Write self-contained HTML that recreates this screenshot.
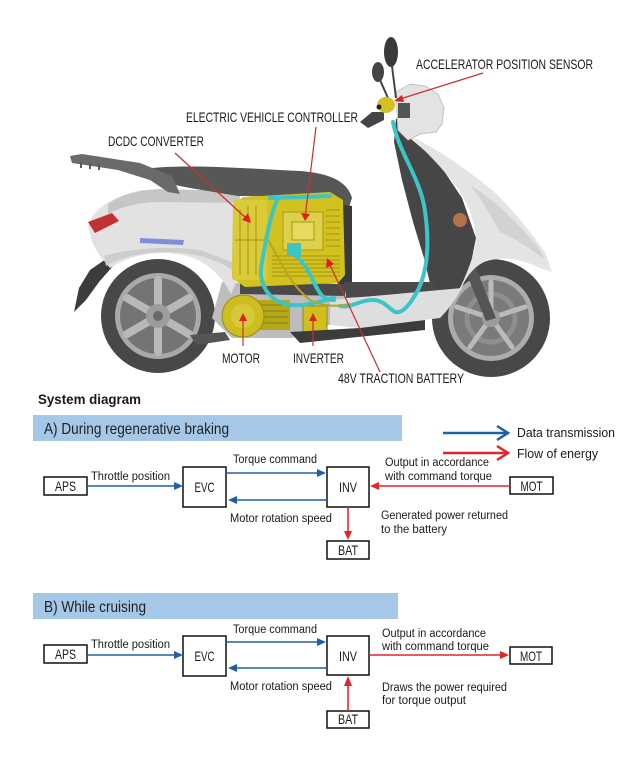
<!DOCTYPE html>
<html>
<head>
<meta charset="utf-8">
<style>
html,body{margin:0;padding:0;background:#fff;}
body{width:640px;height:762px;overflow:hidden;}
svg{display:block;}
text{font-family:"Liberation Sans",Arial,sans-serif;fill:#1a1a1a;}
</style>
</head>
<body>
<svg width="640" height="762" viewBox="0 0 640 762" xmlns="http://www.w3.org/2000/svg">
<rect width="640" height="762" fill="#ffffff"/>

<!-- ================= SCOOTER ILLUSTRATION ================= -->
<!-- rear wheel -->
<g transform="translate(158,316)">
  <circle r="57" fill="#484848"/>
  <circle r="43" fill="#a9a9a9"/>
  <circle r="38" fill="#747474"/>
  <g stroke="#b8b8b8" stroke-width="8" stroke-linecap="round">
    <line x1="0" y1="0" x2="0" y2="-36"/>
    <line x1="0" y1="0" x2="31" y2="-18"/>
    <line x1="0" y1="0" x2="31" y2="18"/>
    <line x1="0" y1="0" x2="0" y2="36"/>
    <line x1="0" y1="0" x2="-31" y2="18"/>
    <line x1="0" y1="0" x2="-31" y2="-18"/>
  </g>
  <circle r="12" fill="#9c9c9c"/>
  <circle r="5" fill="#6a6a6a"/>
</g>
<!-- front wheel -->
<g transform="translate(491,318)">
  <circle r="59" fill="#484848"/>
  <circle r="43" fill="#acacac"/>
  <circle r="38" fill="#7a7a7a"/>
  <circle r="24" fill="none" stroke="#8e8e8e" stroke-width="5"/>
  <g stroke="#bababa" stroke-width="5" stroke-linecap="round">
    <line x1="0" y1="0" x2="0" y2="-36"/>
    <line x1="0" y1="0" x2="34" y2="-11"/>
    <line x1="0" y1="0" x2="21" y2="29"/>
    <line x1="0" y1="0" x2="-21" y2="29"/>
    <line x1="0" y1="0" x2="-34" y2="-11"/>
  </g>
  <circle r="9" fill="#9c9c9c"/>
</g>
<!-- front fork -->
<path d="M460,258 L472,258 L496,318 L486,321 Z" fill="#555"/>

<!-- rear mudguard -->
<path d="M74,312 L79,288 L90,270 L106,259 L113,266 L99,282 L86,300 Z" fill="#3c3c3c"/>

<!-- lower gray region under battery -->
<path d="M222,282 L345,288 L345,300 L332,324 L292,338 L232,338 L212,318 Z" fill="#bdbdbd"/>
<path d="M190,335 L225,332 L230,340 L196,345 Z" fill="#555"/>

<!-- rear body -->
<path d="M88,226 C92,210 112,196 142,190 L240,192 L238,278 L231,294 C222,276 205,258 178,254 C150,250 125,258 110,268 L100,256 L92,242 Z" fill="#e2e2e2"/>
<path d="M108,204 C122,194 140,190 160,189 L240,191 L240,203 L160,202 C140,202 124,206 108,214 Z" fill="#c6c6c6"/>
<path d="M104,256 C130,248 170,246 200,250 L232,262 L232,270 C215,258 190,252 165,252 C140,252 120,258 106,266 Z" fill="#cdcdcd"/>
<!-- tail light -->
<path d="M88,222 L112,213 L119,221 L95,233 Z" fill="#c23232"/>
<!-- logo -->
<path d="M140,238 L184,240 L183,245 L140,243 Z" fill="#7d8fd6"/>

<!-- seat -->
<path d="M138,170 C175,163 240,168 300,171 C330,173 348,182 352,198 L348,210 L335,206 C310,198 270,196 238,196 L190,188 L150,180 Z" fill="#575757"/>
<!-- grab rail -->
<path d="M70,156 L82,154 L140,163 L172,176 L180,194 L168,192 L150,180 L118,170 L72,163 Z" fill="#6a6a6a"/>
<g fill="#5a5a5a">
  <rect x="80" y="162" width="2" height="6"/>
  <rect x="89" y="163" width="2" height="6"/>
  <rect x="98" y="164" width="2" height="6"/>
</g>

<!-- battery case back -->
<path d="M336,204 L352,206 L352,288 L338,292 Z" fill="#3a3a3a"/>
<path d="M240,282 L345,284 L345,296 L240,294 Z" fill="#4a4a4a"/>
<!-- yellow block -->
<path d="M233,205 L243,197 L330,192 L343,200 L345,275 L338,283 L245,287 L232,278 Z" fill="#d3c11f"/>
<rect x="233" y="200" width="34" height="80" fill="#dccb38"/>
<g stroke="#a39414" stroke-width="1">
  <line x1="240" y1="210" x2="240" y2="275"/>
  <line x1="248" y1="206" x2="248" y2="275"/>
  <line x1="256" y1="206" x2="256" y2="275"/>
  <line x1="235" y1="240" x2="266" y2="240"/>
  <line x1="272" y1="256" x2="340" y2="256"/>
  <line x1="272" y1="260" x2="340" y2="260"/>
  <line x1="272" y1="264" x2="340" y2="264"/>
  <line x1="272" y1="268" x2="340" y2="268"/>
  <line x1="272" y1="272" x2="340" y2="272"/>
  <line x1="272" y1="276" x2="340" y2="276"/>
  <line x1="326" y1="210" x2="340" y2="210"/>
  <line x1="326" y1="216" x2="340" y2="216"/>
  <line x1="326" y1="222" x2="340" y2="222"/>
  <line x1="326" y1="228" x2="340" y2="228"/>
  <line x1="326" y1="234" x2="340" y2="234"/>
  <line x1="326" y1="240" x2="340" y2="240"/>
  <line x1="326" y1="246" x2="340" y2="246"/>
</g>
<rect x="283" y="212" width="40" height="38" fill="#ddd04c" stroke="#a89a15" stroke-width="1"/>
<rect x="292" y="222" width="22" height="18" fill="#e6d95e" stroke="#a89a15" stroke-width="1"/>

<!-- motor -->
<rect x="258" y="300" width="32" height="30" fill="#b6a61a"/>
<g stroke="#8a7e10" stroke-width="1">
  <line x1="262" y1="305" x2="288" y2="305"/>
  <line x1="262" y1="311" x2="288" y2="311"/>
  <line x1="262" y1="317" x2="288" y2="317"/>
  <line x1="262" y1="323" x2="288" y2="323"/>
</g>
<circle cx="243" cy="316" r="21" fill="#cdbd1e" stroke="#9a8c10" stroke-width="1"/>
<circle cx="243" cy="316" r="12" fill="#d8c93a"/>
<!-- inverter -->
<rect x="303" y="306" width="24" height="26" fill="#cfbf1f" stroke="#9a8c10" stroke-width="1"/>

<!-- front leg shield (dark) -->
<path d="M396,118 L410,138 L438,162 L462,198 L476,238 L470,268 L458,292 L432,292 L424,258 L413,222 L402,180 L394,142 Z" fill="#464646"/>
<!-- front fairing (white) -->
<path d="M410,136 C440,150 470,172 492,190 C512,208 530,232 545,252 L552,272 L540,268 C520,258 500,256 484,262 C472,268 464,280 460,292 L458,292 C468,272 476,250 476,238 C474,215 465,198 455,185 C440,165 424,150 410,136 Z" fill="#e4e4e4"/>
<path d="M470,185 C495,200 520,225 540,250 L545,260 C530,248 515,238 500,232 C490,215 482,200 470,185 Z" fill="#d2d2d2"/>
<circle cx="460" cy="220" r="7" fill="#b4714a"/>
<!-- headset -->
<path d="M396,92 L410,84 L425,86 L438,94 L444,108 L442,124 L436,132 L420,134 L408,140 L398,130 Z" fill="#e3e3e3" stroke="#c4c4c4" stroke-width="1"/>
<rect x="398" y="103" width="12" height="15" fill="#555"/>
<!-- mirrors -->
<line x1="392" y1="66" x2="396" y2="98" stroke="#444" stroke-width="2"/>
<line x1="380" y1="80" x2="388" y2="98" stroke="#444" stroke-width="2"/>
<ellipse cx="391" cy="52" rx="7" ry="15" fill="#3a3a3a"/>
<ellipse cx="378" cy="72" rx="6" ry="10" fill="#454545"/>
<!-- handle grip -->
<path d="M360,122 L372,112 L384,112 L384,120 L368,128 Z" fill="#444"/>
<!-- APS yellow -->
<ellipse cx="386" cy="105" rx="9" ry="8" fill="#d4c020"/>
<circle cx="379" cy="107" r="2.5" fill="#222"/>

<!-- floor -->
<path d="M344,282 L432,282 L440,292 L346,298 Z" fill="#4a4a4a"/>
<path d="M330,300 L440,290 L462,288 C455,300 448,310 440,318 L360,328 L330,325 Z" fill="#dedede"/>
<path d="M290,332 L360,328 L425,320 L425,330 L300,343 Z" fill="#3c3c3c"/>

<!-- cyan cables -->
<g fill="none" stroke="#3cc5c8" stroke-width="4" stroke-linecap="round">
  <path d="M393,122 C398,150 418,175 424,205 C430,240 428,270 418,290 C410,305 402,314 395,312 C388,308 384,300 372,300 C360,300 352,308 340,306"/>
  <path d="M278,198 C270,215 266,240 262,262 C258,280 265,298 285,304 C300,308 318,302 334,298"/>
  <path d="M296,256 C308,266 312,280 318,290 C322,297 326,300 334,300"/>
  <path d="M270,198 L330,196"/>
</g>
<rect x="287" y="243" width="14" height="13" fill="#3cc5c8"/>
<g fill="none" stroke="#b5a520" stroke-width="2">
  <path d="M268,240 C280,260 290,285 310,300 C325,308 340,306 350,304"/>
</g>

<!-- label leader lines -->
<g stroke="#c9302f" stroke-width="1.2" fill="none">
  <line x1="483" y1="73" x2="400" y2="99"/>
  <line x1="316" y1="127" x2="305.5" y2="214"/>
  <line x1="175" y1="153" x2="246" y2="218"/>
  <line x1="380" y1="372" x2="330" y2="265"/>
  <line x1="243" y1="346" x2="243" y2="320"/>
  <line x1="313" y1="346" x2="313" y2="320"/>
</g>
<g fill="#e02020">
  <polygon points="394,101 402,95 404,102"/>
  <polygon points="305,221 301,213 310,214"/>
  <polygon points="251,223 242,220 248,213"/>
  <polygon points="327,258 334,264 326,268"/>
  <polygon points="243,313 239,321 247,321"/>
  <polygon points="313,313 309,321 317,321"/>
</g>

<!-- scooter labels -->
<g font-size="14">
  <text x="416" y="69" textLength="177" lengthAdjust="spacingAndGlyphs">ACCELERATOR POSITION SENSOR</text>
  <text x="186" y="122" textLength="172" lengthAdjust="spacingAndGlyphs">ELECTRIC VEHICLE CONTROLLER</text>
  <text x="108" y="146" textLength="96" lengthAdjust="spacingAndGlyphs">DCDC CONVERTER</text>
  <text x="222" y="363" textLength="38" lengthAdjust="spacingAndGlyphs">MOTOR</text>
  <text x="293" y="363" textLength="51" lengthAdjust="spacingAndGlyphs">INVERTER</text>
  <text x="338" y="383" textLength="126" lengthAdjust="spacingAndGlyphs">48V TRACTION BATTERY</text>
</g>

<!-- ================= SYSTEM DIAGRAM ================= -->
<text x="38" y="404" font-size="14" font-weight="bold" textLength="103" lengthAdjust="spacingAndGlyphs">System diagram</text>

<!-- Section A -->
<rect x="33" y="415" width="369" height="26" fill="#a5c8e9"/>
<text x="44" y="434" font-size="16" textLength="185" lengthAdjust="spacingAndGlyphs" style="fill:#222">A) During regenerative braking</text>

<!-- legend -->
<g fill="none" stroke-width="2.5" stroke-linecap="butt">
  <line x1="443" y1="433" x2="507" y2="433" stroke="#2060a8"/>
  <polyline points="497,426 508,433 497,440" stroke="#2060a8"/>
  <line x1="443" y1="453" x2="507" y2="453" stroke="#e0262a"/>
  <polyline points="497,446 508,453 497,460" stroke="#e0262a"/>
</g>
<text x="517" y="437" font-size="13" textLength="98" lengthAdjust="spacingAndGlyphs">Data transmission</text>
<text x="517" y="458" font-size="13" textLength="81" lengthAdjust="spacingAndGlyphs">Flow of energy</text>

<!-- boxes A -->
<g fill="#fff" stroke="#111" stroke-width="1.5">
  <rect x="44" y="477" width="43" height="18"/>
  <rect x="183" y="467" width="43" height="40"/>
  <rect x="327" y="467" width="42" height="40"/>
  <rect x="510" y="477" width="43" height="17"/>
  <rect x="327" y="541" width="42" height="18"/>
</g>
<g font-size="14">
  <text x="55" y="491" textLength="21" lengthAdjust="spacingAndGlyphs">APS</text>
  <text x="194.5" y="492" textLength="20" lengthAdjust="spacingAndGlyphs">EVC</text>
  <text x="339" y="492" textLength="18" lengthAdjust="spacingAndGlyphs">INV</text>
  <text x="520.5" y="491" textLength="22" lengthAdjust="spacingAndGlyphs">MOT</text>
  <text x="338" y="555" textLength="20" lengthAdjust="spacingAndGlyphs">BAT</text>
</g>
<!-- arrows A -->
<g stroke-width="1.6">
  <line x1="87" y1="486" x2="176" y2="486" stroke="#2060a8"/>
  <line x1="226" y1="473" x2="319" y2="473" stroke="#2060a8"/>
  <line x1="327" y1="500" x2="235" y2="500" stroke="#2060a8"/>
  <line x1="510" y1="486" x2="377" y2="486" stroke="#e0262a"/>
  <line x1="348" y1="507" x2="348" y2="533" stroke="#e0262a"/>
</g>
<g fill="#2060a8">
  <polygon points="174,482 183,486 174,490"/>
  <polygon points="317,469 326,473 317,477"/>
  <polygon points="237,496 228,500 237,504"/>
</g>
<g fill="#e0262a">
  <polygon points="379,482 370,486 379,490"/>
  <polygon points="344,531 348,540 352,531"/>
</g>
<g font-size="11.5">
  <text x="91" y="480" textLength="79" lengthAdjust="spacingAndGlyphs">Throttle position</text>
  <text x="233" y="463" textLength="84" lengthAdjust="spacingAndGlyphs">Torque command</text>
  <text x="230" y="522" textLength="102" lengthAdjust="spacingAndGlyphs">Motor rotation speed</text>
  <text x="385" y="466" textLength="104" lengthAdjust="spacingAndGlyphs">Output in accordance</text>
  <text x="385" y="480" textLength="107" lengthAdjust="spacingAndGlyphs">with command torque</text>
  <text x="381" y="519" textLength="127" lengthAdjust="spacingAndGlyphs">Generated power returned</text>
  <text x="381" y="533" textLength="66" lengthAdjust="spacingAndGlyphs">to the battery</text>
</g>

<!-- Section B -->
<rect x="33" y="593" width="365" height="26" fill="#a5c8e9"/>
<text x="44" y="612" font-size="16" textLength="102" lengthAdjust="spacingAndGlyphs" style="fill:#222">B) While cruising</text>

<g fill="#fff" stroke="#111" stroke-width="1.5">
  <rect x="44" y="645" width="43" height="18"/>
  <rect x="183" y="636" width="43" height="40"/>
  <rect x="327" y="636" width="42" height="39"/>
  <rect x="510" y="647" width="42" height="17"/>
  <rect x="327" y="711" width="42" height="17"/>
</g>
<g font-size="14">
  <text x="55" y="659" textLength="21" lengthAdjust="spacingAndGlyphs">APS</text>
  <text x="194.5" y="661" textLength="20" lengthAdjust="spacingAndGlyphs">EVC</text>
  <text x="339" y="661" textLength="18" lengthAdjust="spacingAndGlyphs">INV</text>
  <text x="520" y="661" textLength="22" lengthAdjust="spacingAndGlyphs">MOT</text>
  <text x="338" y="724" textLength="20" lengthAdjust="spacingAndGlyphs">BAT</text>
</g>
<g stroke-width="1.6">
  <line x1="87" y1="655" x2="176" y2="655" stroke="#2060a8"/>
  <line x1="226" y1="642" x2="319" y2="642" stroke="#2060a8"/>
  <line x1="327" y1="668" x2="235" y2="668" stroke="#2060a8"/>
  <line x1="369" y1="655" x2="502" y2="655" stroke="#e0262a"/>
  <line x1="348" y1="711" x2="348" y2="684" stroke="#e0262a"/>
</g>
<g fill="#2060a8">
  <polygon points="174,651 183,655 174,659"/>
  <polygon points="317,638 326,642 317,646"/>
  <polygon points="237,664 228,668 237,672"/>
</g>
<g fill="#e0262a">
  <polygon points="500,651 509,655 500,659"/>
  <polygon points="344,686 348,676 352,686"/>
</g>
<g font-size="11.5">
  <text x="91" y="648" textLength="79" lengthAdjust="spacingAndGlyphs">Throttle position</text>
  <text x="233" y="633" textLength="84" lengthAdjust="spacingAndGlyphs">Torque command</text>
  <text x="230" y="690" textLength="102" lengthAdjust="spacingAndGlyphs">Motor rotation speed</text>
  <text x="382" y="637" textLength="104" lengthAdjust="spacingAndGlyphs">Output in accordance</text>
  <text x="382" y="650" textLength="107" lengthAdjust="spacingAndGlyphs">with command torque</text>
  <text x="382" y="691" textLength="125" lengthAdjust="spacingAndGlyphs">Draws the power required</text>
  <text x="382" y="704" textLength="84" lengthAdjust="spacingAndGlyphs">for torque output</text>
</g>
</svg>
</body>
</html>
